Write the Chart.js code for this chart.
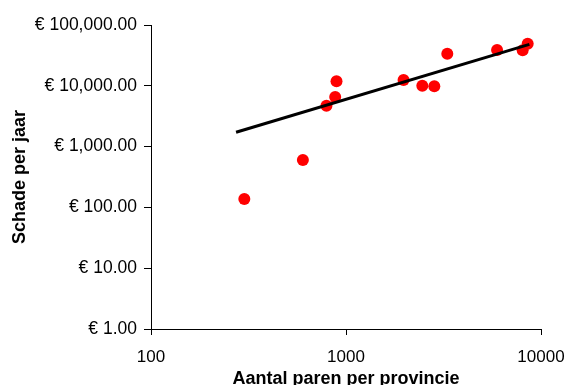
<!DOCTYPE html>
<html>
<head>
<meta charset="utf-8">
<script src="https://cdn.jsdelivr.net/npm/chart.js@4"></script>
<style>
  html, body { margin: 0; padding: 0; background: #ffffff; }
  #wrap { width: 567px; height: 385px; }
</style>
</head>
<body>
<div id="wrap"><canvas id="c" width="567" height="385"></canvas></div>
<script>
// Breeding pairs per province vs. yearly damage
const pairs  = [301, 601, 794, 880, 894, 1973, 2462, 2837, 3307, 5954, 8053, 8545];
const damage = [137, 602, 4710, 6545, 11860, 12450, 10040, 9820, 33730, 38800, 38370, 49250];

// Power-law trend line endpoints
const trendX = [273, 8716];
const trendY = [1718, 48100];

// Axis ticks
const xTickValues = [100, 1000, 10000];
const xTickLabels = ['100', '1000', '10000'];
const yTickValues = [1, 10, 100, 1000, 10000, 100000];
const yTickLabels = ['€ 1.00', '€ 10.00', '€ 100.00', '€ 1,000.00', '€ 10,000.00', '€ 100,000.00'];

const FONT = '"Liberation Sans", Arial, sans-serif';

const points = pairs.map((x, i) => ({ x: x, y: damage[i] }));
const trend = trendX.map((x, i) => ({ x: x, y: trendY[i] }));

new Chart(document.getElementById('c'), {
  type: 'scatter',
  data: {
    datasets: [
      {
        label: 'Trend',
        type: 'line',
        data: trend,
        borderColor: '#000000',
        borderWidth: 3,
        pointRadius: 0,
        fill: false,
        order: 0
      },
      {
        label: 'Schade',
        data: points,
        backgroundColor: '#ff0000',
        borderWidth: 0,
        pointRadius: 6,
        pointHoverRadius: 6,
        order: 1
      }
    ]
  },
  options: {
    responsive: false,
    devicePixelRatio: 1,
    animation: false,
    events: [],
    layout: { padding: { top: 25, right: 26, left: 0, bottom: 0 } },
    plugins: {
      legend: { display: false },
      tooltip: { enabled: false }
    },
    scales: {
      x: {
        type: 'logarithmic',
        position: 'bottom',
        min: 100,
        max: 10000,
        afterBuildTicks: s => { s.ticks = xTickValues.map(v => ({ value: v })); },
        afterFit: s => { s.height = 56; s.paddingLeft = 0; s.paddingRight = 0; },
        ticks: {
          color: '#000000',
          font: { family: FONT, size: 17 },
          padding: 12,
          maxRotation: 0,
          autoSkip: false,
          callback: (v, i) => xTickLabels[i]
        },
        grid: {
          drawOnChartArea: false,
          drawTicks: true,
          tickLength: 6,
          color: '#000000',
          lineWidth: 1
        },
        border: { display: true, color: '#000000', width: 1 },
        title: {
          display: true,
          text: 'Aantal paren per provincie',
          color: '#000000',
          font: { family: FONT, size: 18, weight: 'bold' },
          padding: { top: 0, bottom: -4.5 }
        }
      },
      y: {
        type: 'logarithmic',
        position: 'left',
        min: 1,
        max: 100000,
        afterBuildTicks: s => { s.ticks = yTickValues.map(v => ({ value: v })); },
        afterFit: s => { s.width = 151; s.paddingTop = 0; s.paddingBottom = 0; },
        ticks: {
          color: '#000000',
          font: { family: FONT, size: 17.5 },
          padding: 7,
          autoSkip: false,
          callback: (v, i) => yTickLabels[i]
        },
        grid: {
          drawOnChartArea: false,
          drawTicks: true,
          tickLength: 7,
          color: '#000000',
          lineWidth: 1
        },
        border: { display: true, color: '#000000', width: 1 },
        title: {
          display: true,
          text: 'Schade per jaar',
          color: '#000000',
          font: { family: FONT, size: 18, weight: 'bold' },
          padding: { top: 9, bottom: 0 }
        }
      }
    }
  }
});
</script>
</body>
</html>
